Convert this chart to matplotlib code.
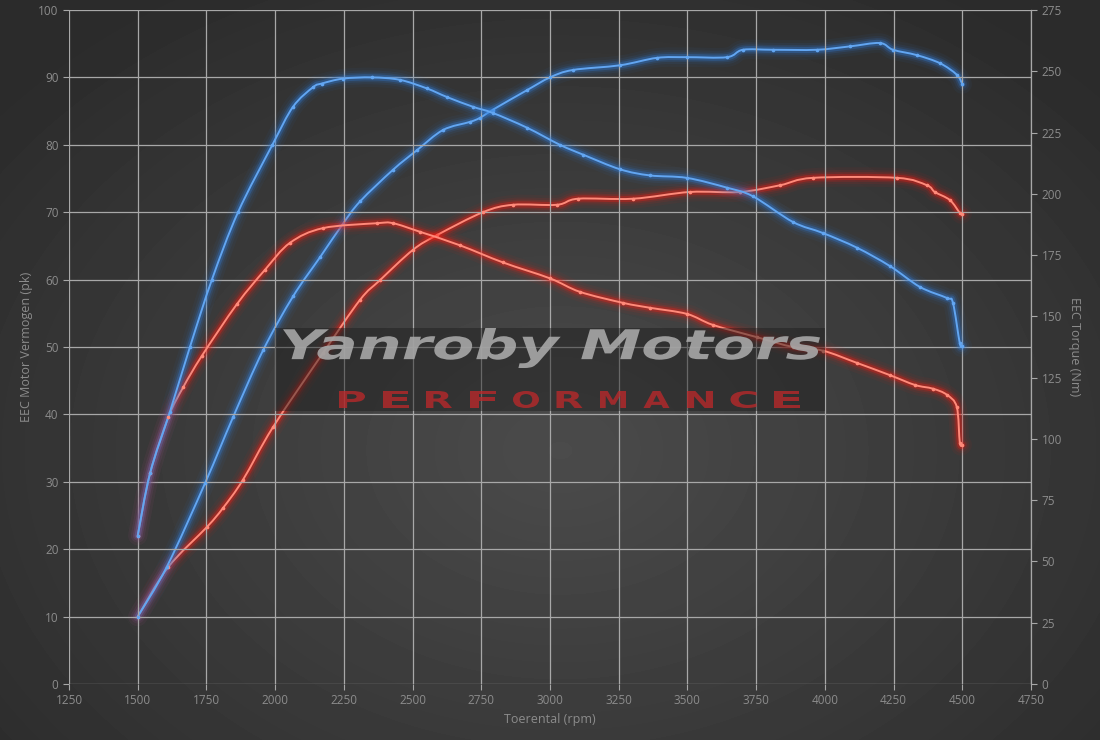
import numpy as np
import matplotlib
matplotlib.use('Agg')
import matplotlib.pyplot as plt
from matplotlib.path import Path
from matplotlib.patches import PathPatch
from matplotlib.textpath import TextPath
from matplotlib.font_manager import FontProperties
from matplotlib.transforms import Affine2D

# data
blue_power_rpm = [1500, 1606, 1745, 1847, 1956, 2065, 2163, 2247, 2309, 2429, 2516, 2611, 2709, 2745,
                  2792, 2916, 3000, 3083, 3255, 3389, 3498, 3644, 3702, 3811, 3971, 4091, 4200, 4248,
                  4335, 4419, 4480, 4500]
blue_power_pk = [10, 17.4, 29.8, 39.6, 49.5, 57.5, 63.3, 68.3, 71.6, 76.3, 79.2, 82.2, 83.4, 84,
                 85.2, 88.1, 90, 91.1, 91.8, 92.9, 93, 93, 94.1, 94.1, 94.1, 94.6, 95.1, 94.1,
                 93.3, 92.1, 90.4, 89]

red_power_rpm = [1500, 1610, 1752, 1810, 1883, 1992, 2174, 2309, 2381, 2501, 2589, 2756, 2865, 3025,
                 3102, 3302, 3509, 3691, 3837, 3957, 4262, 4371, 4400, 4455, 4491, 4500]
red_power_pk = [10, 17.3, 23.3, 26.1, 30.3, 38.1, 49.1, 57, 59.9, 64.4, 66.6, 70, 71.1, 71.1,
                72, 72, 73, 73, 74, 75.1, 75.1, 74, 73, 71.8, 69.9, 69.8]

blue_torque_rpm = [1500, 1545, 1617, 1690, 1770, 1865, 1990, 2065, 2138, 2170, 2247, 2352,
                   2454, 2552, 2625, 2720, 2792, 2916, 3036, 3120, 3255, 3364, 3498, 3644, 3738, 3884,
                   3993, 4117, 4237, 4346, 4444, 4466, 4491, 4500]
blue_torque_nm = [60.5, 86, 111, 137.5, 165, 192.5, 220, 235.5, 243.5, 245, 247, 247.5,
                  246.5, 243, 239.5, 235.5, 233, 227, 220, 216, 210, 207.5, 206.5, 202.5, 199, 188.5,
                  184, 178, 170.5, 162, 157.5, 155.5, 139, 138]

red_torque_rpm = [1500, 1545, 1612, 1665, 1734, 1861, 1963, 2054, 2174, 2370, 2429, 2527, 2672, 2829,
                  3000, 3109, 3266, 3364, 3498, 3593, 3753, 3884, 3993, 4117, 4237, 4328, 4393, 4444,
                  4480, 4491, 4500]
red_torque_nm = [60.5, 86, 109, 121, 134, 155, 169, 180, 186, 188, 188, 184.5, 179, 172,
                 165.5, 160, 155.5, 153.5, 151, 146.5, 141.5, 137.5, 136, 131, 126, 122, 120.5, 118,
                 113, 98.5, 97.6]

x_ticks = np.arange(1250, 4751, 250)
pk_ticks = np.arange(0, 101, 10)
nm_ticks = np.arange(0, 276, 25)

W, H = 1100, 740
fig = plt.figure(figsize=(W / 100, H / 100), dpi=100)

# radial gradient background
bg = fig.add_axes([0, 0, 1, 1], zorder=-5)
yy, xx = np.mgrid[0:H, 0:W]
r = np.sqrt(((xx - 560) / 700.0) ** 2 + ((yy - 450) / 520.0) ** 2)
shade = np.clip(0.295 - 0.12 * r, 0.17, 0.295)
bg.imshow(shade, cmap='gray', vmin=0, vmax=1, aspect='auto', interpolation='bilinear')
bg.axis('off')

ax = fig.add_axes([69 / W, 1 - 684 / H, (1031 - 69) / W, (684 - 10) / H])
ax.set_facecolor('none')
ax.set_xlim(1250, 4750)
ax.set_ylim(0, 100)
ax.set_xticks(x_ticks)
ax.set_yticks(pk_ticks)
ax.grid(True, color='#a8a8a8', lw=0.9)
for s in ax.spines.values():
    s.set_visible(False)

ax2 = ax.twinx()
ax2.set_ylim(0, 275)
ax2.set_yticks(nm_ticks)
for s in ['left', 'top', 'bottom']:
    ax2.spines[s].set_visible(False)
ax2.spines['right'].set_color('#a8a8a8')
ax2.spines['right'].set_linewidth(0.9)

lab_col = '#8c8c8c'
font = 'Open Sans'
for a in (ax, ax2):
    a.tick_params(colors='#a8a8a8', labelcolor=lab_col, labelsize=8.5, length=4, width=0.8)
    for t in a.get_xticklabels() + a.get_yticklabels():
        t.set_fontfamily(font)

ax.set_xlabel('Toerental (rpm)', color=lab_col, fontsize=9, fontfamily=font, labelpad=4)
ax.set_ylabel('EEC Motor Vermogen (pk)', color=lab_col, fontsize=9, fontfamily=font, labelpad=4)
ax2.set_ylabel('EEC Torque (Nm)', color=lab_col, fontsize=9, fontfamily=font, rotation=270, labelpad=14)


def smooth_path(x, y, k=1 / 6.0):
    # Catmull-Rom through the points, as cubic beziers (like a "smoothed line" in a spreadsheet)
    p = np.column_stack([x, y]).astype(float)
    ext = np.vstack([p[0], p, p[-1]])
    verts = [p[0]]
    codes = [Path.MOVETO]
    for i in range(len(p) - 1):
        p0, p1, p2, p3 = ext[i], ext[i + 1], ext[i + 2], ext[i + 3]
        verts += [p1 + (p2 - p0) * k, p2 - (p3 - p1) * k, p2]
        codes += [Path.CURVE4] * 3
    return Path(verts, codes)


def glow_line(a, x, y, core, glow):
    path = smooth_path(x, y)
    for lw, al in [(14, 0.05), (10, 0.08), (7, 0.14), (4.5, 0.3)]:
        a.add_patch(PathPatch(path, fill=False, ec=glow, lw=lw, alpha=al, capstyle='round', joinstyle='round'))
    a.add_patch(PathPatch(path, fill=False, ec=core, lw=1.4, capstyle='round', joinstyle='round'))
    a.plot(x, y, ls='none', marker='o', ms=1.6, color=core)


glow_line(ax, red_power_rpm, red_power_pk, '#ff8a7a', '#ff1a10')
glow_line(ax2, red_torque_rpm, red_torque_nm, '#ff8a7a', '#ff1a10')
glow_line(ax, blue_power_rpm, blue_power_pk, '#62a6f2', '#2f7fe0')
glow_line(ax2, blue_torque_rpm, blue_torque_nm, '#62a6f2', '#2f7fe0')

# watermark
wm = fig.add_axes([0, 0, 1, 1], zorder=5)
wm.set_xlim(0, W)
wm.set_ylim(H, 0)
wm.axis('off')
wm.add_patch(plt.Rectangle((275, 328), 550, 83, color='#1c1c1c', alpha=0.45, lw=0))


def fit_text(s, x0, x1, ytop, ybot, color, alpha, weight='bold', style='italic'):
    fp = FontProperties(family='DejaVu Sans', weight=weight, style=style)
    tp = TextPath((0, 0), s, size=10, prop=fp)
    ext = tp.get_extents()
    sx = (x1 - x0) / ext.width
    sy = (ybot - ytop) / ext.height
    tr = Affine2D().translate(-ext.x0, -ext.y0).scale(sx, -sy).translate(x0, ybot)
    wm.add_patch(PathPatch(tr.transform_path(tp), fc=color, ec='none', alpha=alpha))


fit_text('Yanroby Motors', 283, 820, 328, 368, '#a8a8a8', 0.9)
for i, ch in enumerate('PERFORMANCE'):
    cx = 352 + i * 43.5
    fit_text(ch, cx - 13, cx + 13, 391, 408, '#c0282a', 0.75, style='normal')

fig.savefig('out.png', dpi=100)
